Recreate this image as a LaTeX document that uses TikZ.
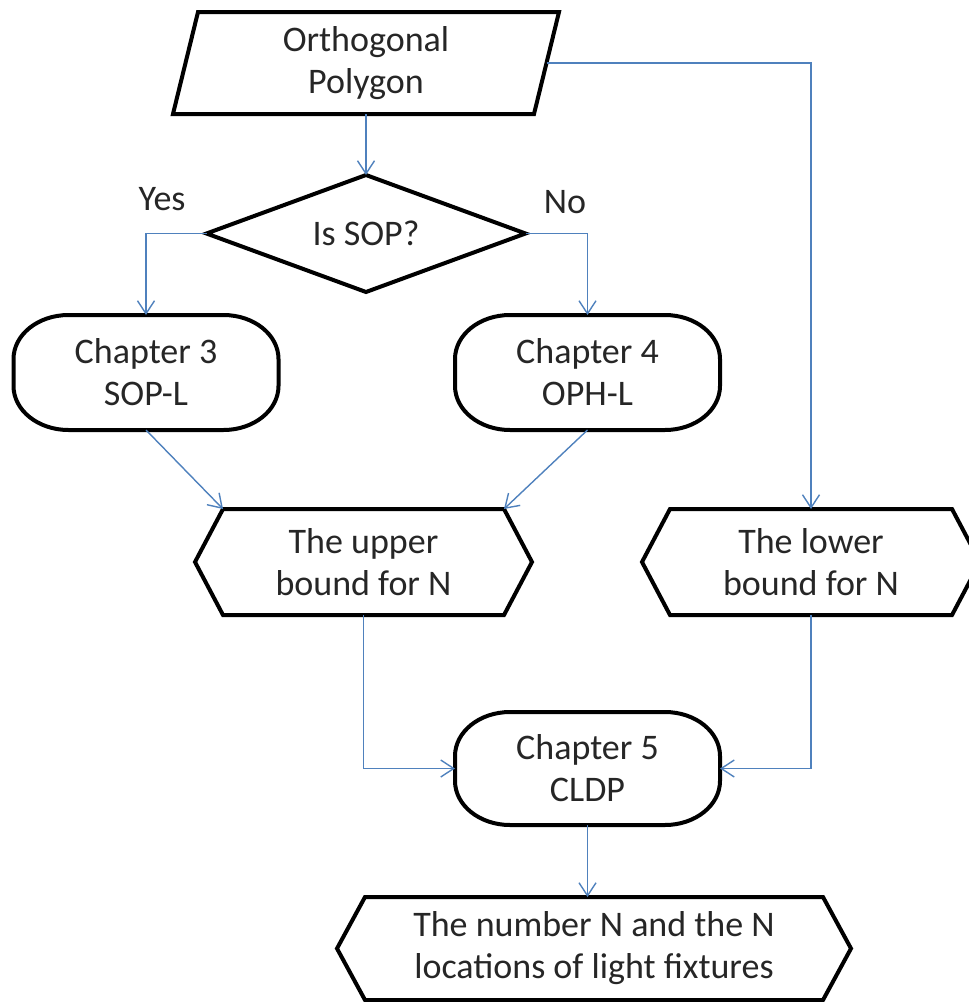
\documentclass[tikz,border=0pt]{standalone}
\usepackage{fontspec}
\setmainfont{Carlito}
\usetikzlibrary{shapes.geometric,arrows.meta,calc}
\definecolor{linkblue}{RGB}{79,129,189}
\definecolor{inktext}{RGB}{38,38,38}
\begin{document}
\begin{tikzpicture}[x=1pt,y=-1pt,
  every node/.style={font=\fontsize{36}{42}\selectfont, text=inktext, align=center},
  box/.style={rectangle, draw=none, inner sep=0pt, outer sep=0pt},
  outline/.style={draw=black, line width=4pt},
  decision/.style={diamond, outline, inner sep=0pt, outer sep=0pt,
    minimum width=319pt, minimum height=117pt, aspect=2.7},
  conn/.style={draw=linkblue, line width=1.4pt,
    -{Straight Barb[length=13pt,width=17pt]}},
  lbl/.style={inner sep=0pt}
]
\useasboundingbox (0,0) rectangle (969,1002);

% text holders for the shapes (outlines drawn below)
\node[box, minimum width=361pt, minimum height=102pt] (P) at (366,63) {Orthogonal\\Polygon};
\node[decision] (D) at (366,233.5) {Is SOP?};
\node[box, minimum width=265pt, minimum height=115pt] (C3) at (146,372.5) {Chapter 3\\SOP-L};
\node[box, minimum width=265pt, minimum height=115pt] (C4) at (587.5,372.5) {Chapter 4\\OPH-L};
\node[box, minimum width=337pt, minimum height=106pt] (U) at (363.5,562) {The upper\\bound for N};
\node[box, minimum width=338pt, minimum height=106pt] (L) at (811,562) {The lower\\bound for N};
\node[box, minimum width=265pt, minimum height=113pt] (C5) at (587.5,768.5) {Chapter 5\\CLDP};
\node[box, minimum width=514pt, minimum height=103pt] (F) at (594,948.5) {The number N and the N\\locations of light fixtures};

\node[lbl] (yes) at (162,199) {Yes};
\node[lbl] (no) at (565,202) {No};

% input parallelogram
\draw[outline] ($(P.north west)+(12.5pt,0)$) -- ($(P.north east)+(12.5pt,0)$)
  -- ($(P.south east)+(-12.5pt,0)$) -- ($(P.south west)+(-12.5pt,0)$) -- cycle;

% rounded process boxes
\foreach \n in {C3,C4,C5}{
  \draw[outline] ($(\n.north west)+(55pt,0)$) -- ($(\n.north east)+(-55pt,0)$)
    arc[start angle=90, end angle=0, x radius=55pt, y radius=44pt]
    -- ($(\n.south east)+(0,44pt)$)
    arc[start angle=0, end angle=-90, x radius=55pt, y radius=44pt]
    -- ($(\n.south west)+(55pt,0)$)
    arc[start angle=270, end angle=180, x radius=55pt, y radius=44pt]
    -- ($(\n.north west)+(0,-44pt)$)
    arc[start angle=180, end angle=90, x radius=55pt, y radius=44pt]
    -- cycle;
}

% hexagonal display boxes
\foreach \n in {U,L,F}{
  \draw[outline] (\n.west) -- ($(\n.north west)+(28pt,0)$) -- ($(\n.north east)+(-28pt,0)$)
    -- (\n.east) -- ($(\n.south east)+(-28pt,0)$) -- ($(\n.south west)+(28pt,0)$) -- cycle;
}

% connectors
\draw[conn] (P.south) -- (D.north);
\draw[conn] (P.east) -| (L.north);
\draw[conn] (D.west) -| (C3.north);
\draw[conn] (D.east) -| (C4.north);
\draw[conn] (C3.south) -- ($(U.north west)+(28pt,0)$);
\draw[conn] (C4.south) -- ($(U.north east)+(-28pt,0)$);
\draw[conn] (U.south) |- (C5.west);
\draw[conn] (L.south) |- (C5.east);
\draw[conn] (C5.south) -- (C5.south |- F.north);
\end{tikzpicture}
\end{document}
